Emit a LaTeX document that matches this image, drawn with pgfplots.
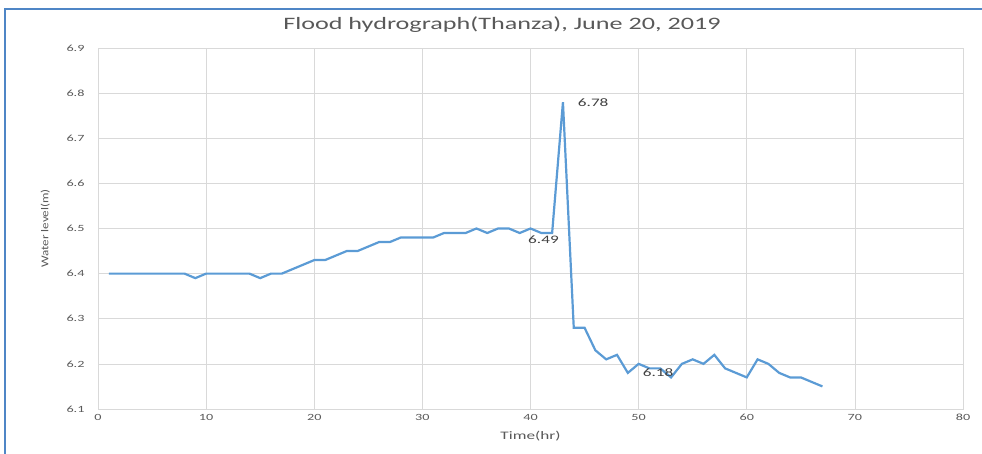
\documentclass[border=0pt]{standalone}
\usepackage{fontspec}
\setmainfont{Carlito}[FakeStretch=1.5]
\newfontfamily\ylabfont{Carlito}[FakeStretch=1.25]
\usepackage{pgfplots}
\pgfplotsset{compat=1.18}
\definecolor{lineblue}{HTML}{5B9BD5}
\definecolor{frameblue}{HTML}{4F86C6}
\definecolor{gridgray}{HTML}{D9D9D9}
\definecolor{txtgray}{HTML}{595959}
\definecolor{lblgray}{HTML}{404040}
\pgfplotstableread{
t v
1 6.40
2 6.40
3 6.40
4 6.40
5 6.40
6 6.40
7 6.40
8 6.40
9 6.39
10 6.40
11 6.40
12 6.40
13 6.40
14 6.40
15 6.39
16 6.40
17 6.40
18 6.41
19 6.42
20 6.43
21 6.43
22 6.44
23 6.45
24 6.45
25 6.46
26 6.47
27 6.47
28 6.48
29 6.48
30 6.48
31 6.48
32 6.49
33 6.49
34 6.49
35 6.50
36 6.49
37 6.50
38 6.50
39 6.49
40 6.50
41 6.49
42 6.49
43 6.78
44 6.28
45 6.28
46 6.23
47 6.21
48 6.22
49 6.18
50 6.20
51 6.19
52 6.19
53 6.17
54 6.20
55 6.21
56 6.20
57 6.22
58 6.19
59 6.18
60 6.17
61 6.21
62 6.20
63 6.18
64 6.17
65 6.17
66 6.16
67 6.15
}\flood
\begin{document}
\begin{tikzpicture}[x=1bp,y=1bp]
\useasboundingbox (0,0) rectangle (982,454);
\draw[color=frameblue, line width=1.5bp] (5,-2) -- (5,445) -- (984,445);
\begin{axis}[
  at={(98bp,45bp)}, anchor=south west,
  scale only axis, width=865bp, height=361bp,
  xmin=0, xmax=80, ymin=6.1, ymax=6.9,
  xtick={0,10,20,30,40,50,60,70,80},
  ytick={6.1,6.2,6.3,6.4,6.5,6.6,6.7,6.8,6.9},
  yticklabel style={xshift=-10bp},
  y tick label style={/pgf/number format/fixed, /pgf/number format/fixed zerofill, /pgf/number format/precision=1},
  /pgf/number format/assume math mode=true,
  major tick length=0pt,
  grid=major,
  grid style={gridgray, line width=0.7bp},
  axis line style={gridgray, line width=0.7bp},
  tick label style={font=\fontsize{9.5}{11}\selectfont, text=txtgray},
  xticklabel style={yshift=-2bp},
  title={Flood hydrograph(Thanza), June 20, 2019},
  title style={at={(axis description cs:0.467,1)}, anchor=base, yshift=13bp, font=\fontsize{17.5}{20}\selectfont, text=txtgray},
  xlabel={Time(hr)},
  ylabel={Water level(m)},
  every axis x label/.style={at={(axis description cs:0.5,0)}, anchor=center, yshift=-27bp, font=\fontsize{11.5}{14}\selectfont, text=txtgray},
  every axis y label/.style={at={(axis description cs:-0.061,0.5)}, anchor=center, rotate=90, font=\ylabfont\fontsize{10.5}{13}\selectfont, text=txtgray},
]
\addplot[lineblue, line width=2.2bp, mark=none] table[x=t, y=v] {\flood};
\node[font=\fontsize{11.5}{13}\selectfont, text=lblgray] at (axis cs:45.8,6.78) {6.78};
\node[font=\fontsize{11.5}{13}\selectfont, text=lblgray] at (axis cs:41.2,6.475) {6.49};
\node[font=\fontsize{11.5}{13}\selectfont, text=lblgray] at (axis cs:51.8,6.18) {6.18};
\end{axis}
\end{tikzpicture}
\end{document}
